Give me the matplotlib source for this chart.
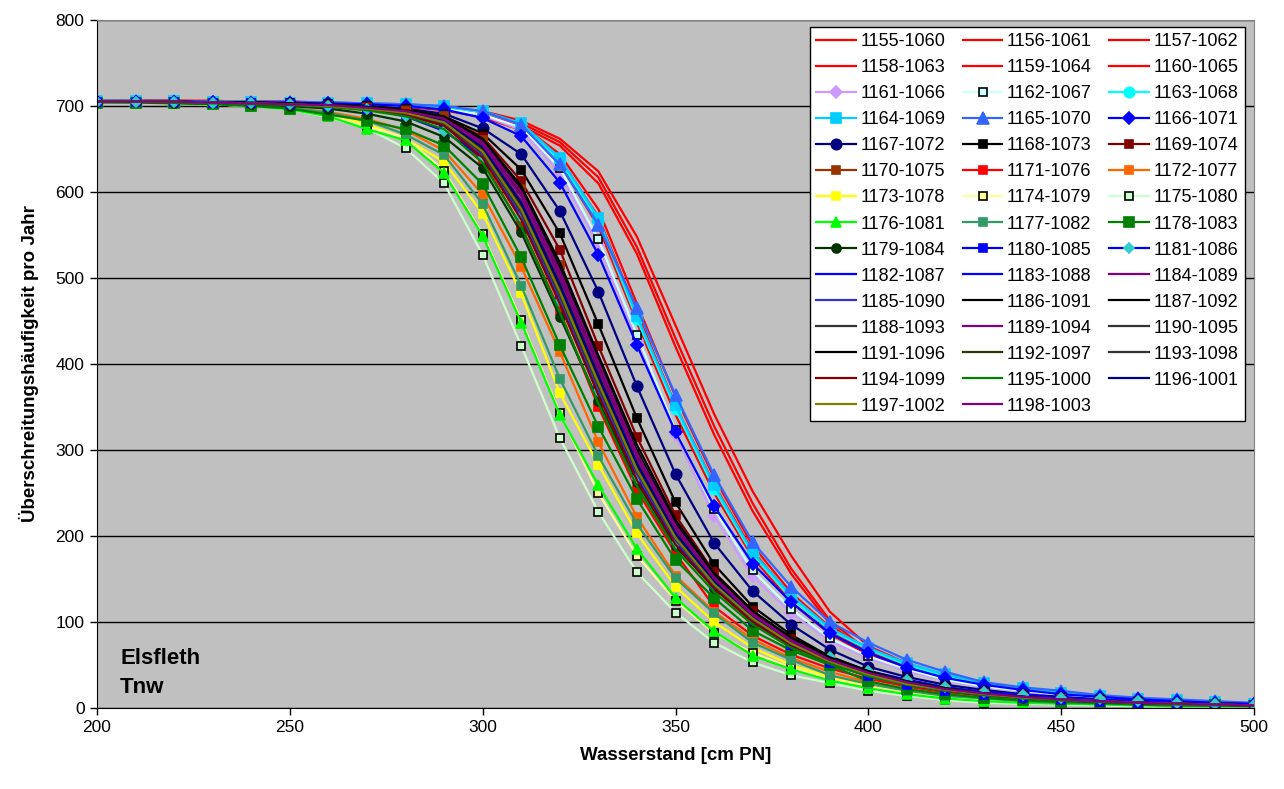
import matplotlib as mpl
import matplotlib.pyplot as plt

mpl.rcParams["font.family"] = ["Liberation Sans", "DejaVu Sans"]

# water level [cm PN]
x = [200, 210, 220, 230, 240, 250, 260, 270, 280, 290, 300, 310, 320, 330, 340, 350,
     360, 370, 380, 390, 400, 410, 420, 430, 440, 450, 460, 470, 480, 490, 500]

s1155 = [706,706,706,706,705,705,704,703,702,699,694,683,662,624,548,445,342,252,177,112,72,52,38,29,22,17,13,10,8,6,5]
s1156 = [706,706,706,706,705,705,704,703,701,698,692,680,658,617,536,430,328,238,162,102,66,48,35,27,21,16,12,10,8,6,5]
s1157 = [706,706,706,705,705,704,704,702,700,697,690,677,654,610,528,420,318,229,156,98,63,46,34,26,20,15,12,9,7,6,5]
s1158 = [706,706,706,705,705,704,703,702,700,697,690,678,644,580,470,362,268,189,134,94,68,50,37,28,22,17,13,10,8,6,5]
s1159 = [706,706,706,705,705,704,703,702,700,696,689,676,639,571,460,352,260,183,129,90,65,48,35,27,21,16,13,10,8,6,5]
s1160 = [706,706,706,705,705,704,703,701,699,695,687,672,633,560,448,341,250,175,123,86,62,46,34,26,20,15,12,9,7,6,5]
s1161 = [705,705,705,705,704,704,703,702,700,697,689,672,622,538,428,318,223,153,110,78,58,43,32,24,19,15,12,9,7,6,4]
s1162 = [705,705,705,705,704,704,703,702,700,697,690,675,628,545,434,323,231,160,115,81,60,45,33,25,20,15,12,9,7,6,4]
s1163 = [706,706,705,705,705,704,704,703,701,699,693,679,637,566,452,348,255,178,128,91,68,50,37,28,22,17,13,10,8,6,5]
s1164 = [706,706,706,705,705,704,704,703,702,700,694,680,640,570,456,352,259,181,131,93,70,52,39,29,23,18,14,11,9,7,5]
s1165 = [706,706,706,705,705,705,704,703,702,700,694,678,632,562,465,364,271,193,141,100,76,56,42,30,24,20,15,12,10,8,6]
s1166 = [705,705,705,705,704,704,703,702,700,696,686,665,611,527,422,321,235,168,123,87,64,47,35,27,21,16,13,10,8,6,5]
s1167 = [705,705,705,704,704,703,702,700,697,691,674,644,578,484,374,272,192,136,97,68,48,36,27,21,16,13,10,8,6,5,4]
s1168 = [705,705,705,704,704,703,702,700,696,688,668,626,552,446,337,239,167,118,85,60,43,32,24,18,14,11,9,7,5,4,3]
s1169 = [705,705,705,704,703,702,701,699,695,687,664,613,533,421,315,224,158,113,80,57,41,30,22,17,13,10,8,6,5,4,3]
s1170 = [705,705,705,704,703,702,700,698,694,688,660,604,515,395,285,205,148,106,76,54,39,29,21,16,12,10,8,6,5,4,3]
s1171 = [705,705,704,704,703,702,700,697,692,679,636,560,462,350,253,180,118,84,62,46,34,25,18,14,11,8,7,5,4,3,3]
s1172 = [705,705,704,703,701,698,693,685,672,648,597,513,414,309,222,154,112,80,58,42,30,22,16,12,9,7,6,5,4,3,2]
s1173 = [705,704,703,702,700,697,690,679,662,635,575,482,366,283,203,141,100,70,50,36,26,19,14,10,8,6,5,4,3,2,2]
s1174 = [705,704,703,702,700,697,689,676,663,625,551,451,343,250,177,125,87,64,47,34,25,18,13,10,7,6,5,4,3,2,2]
s1175 = [705,704,703,702,700,696,687,674,651,610,527,421,314,228,158,111,76,53,38,29,20,14,9,6,5,4,3,2,2,2,2]
s1176 = [705,704,703,702,700,696,688,673,660,622,549,448,341,259,185,128,89,61,45,32,23,16,11,8,6,5,4,3,2,2,2]
s1177 = [705,704,704,703,701,698,692,683,667,643,586,491,383,293,214,151,110,76,56,38,28,20,14,11,8,6,5,4,3,2,2]
s1178 = [704,704,703,702,700,697,690,683,673,654,609,524,422,327,243,172,128,90,67,50,31,22,16,12,9,7,6,4,3,3,2]
s1179 = [705,705,704,703,702,700,697,691,682,664,628,553,455,357,263,188,140,100,73,54,40,29,21,16,12,10,8,6,5,4,3]
s1180 = [705,705,705,704,703,702,700,697,690,677,646,580,478,372,273,193,142,102,73,52,37,27,20,15,12,9,7,6,5,4,3]
s1181 = [705,705,705,704,703,702,700,697,688,671,640,572,473,369,267,192,144,103,77,59,43,33,24,19,15,12,10,8,6,5,4]
s1182 = [705,705,705,704,703,702,700,697,691,680,646,578,482,376,276,197,143,103,74,54,39,28,21,16,12,10,8,6,5,4,3]
s1183 = [705,705,705,704,703,702,700,698,692,682,650,585,490,383,282,201,146,105,76,55,40,29,21,16,12,10,8,6,5,4,3]
s1184 = [705,705,705,704,703,702,701,698,693,684,653,590,497,392,289,207,150,108,78,56,41,30,22,17,13,10,8,6,5,4,3]
s1185 = [705,705,705,704,703,702,700,697,691,679,643,574,476,370,272,195,142,102,74,54,39,28,21,16,12,10,8,6,5,4,3]
s1186 = [705,705,705,704,704,703,701,699,695,687,660,604,512,405,300,215,154,111,80,58,42,31,23,17,13,10,8,6,5,4,3]
s1187 = [705,705,705,704,703,702,701,698,694,685,656,598,504,398,293,210,151,109,79,57,41,30,22,17,13,10,8,6,5,4,3]
s1188 = [705,705,705,704,703,702,701,698,693,683,651,588,494,388,285,204,148,106,77,56,40,29,22,16,12,10,8,6,5,4,3]
s1189 = [705,705,705,704,703,702,701,698,694,686,658,600,508,402,296,212,152,110,79,57,41,30,22,17,13,10,8,6,5,4,3]
s1190 = [705,705,705,704,703,702,700,697,692,681,648,582,486,380,279,199,145,104,75,55,40,29,21,16,12,10,8,6,5,4,3]
s1191 = [705,705,705,704,703,703,701,699,695,688,662,607,518,410,306,219,157,113,82,59,43,31,23,17,13,10,8,6,5,4,3]
s1192 = [705,705,705,704,703,702,700,697,692,682,649,584,488,384,282,202,146,105,76,55,40,29,21,16,12,10,8,6,5,4,3]
s1193 = [705,705,705,704,703,702,700,697,691,680,645,577,480,374,275,197,143,103,74,54,39,28,21,16,12,10,8,6,5,4,3]
s1194 = [705,705,704,704,703,702,700,697,690,677,640,568,470,364,265,190,139,100,72,53,38,28,20,15,12,9,7,6,5,4,3]
s1195 = [705,705,704,703,702,701,699,695,688,673,634,560,460,354,258,184,135,97,70,51,37,27,20,15,11,9,7,6,4,3,3]
s1196 = [705,705,705,704,703,702,701,698,693,683,652,587,492,386,284,203,147,106,76,55,40,29,21,16,12,10,8,6,5,4,3]
s1197 = [705,705,705,704,703,702,700,697,692,681,647,580,484,378,277,198,144,104,75,54,39,28,21,16,12,10,8,6,5,4,3]
s1198 = [705,705,705,704,703,702,701,698,694,685,655,595,502,395,291,209,151,108,78,56,41,30,22,17,13,10,8,6,5,4,3]

labels = ["1155-1060", "1156-1061", "1157-1062", "1158-1063", "1159-1064", "1160-1065",
          "1161-1066", "1162-1067", "1163-1068", "1164-1069", "1165-1070", "1166-1071",
          "1167-1072", "1168-1073", "1169-1074", "1170-1075", "1171-1076", "1172-1077",
          "1173-1078", "1174-1079", "1175-1080", "1176-1081", "1177-1082", "1178-1083",
          "1179-1084", "1180-1085", "1181-1086", "1182-1087", "1183-1088", "1184-1089",
          "1185-1090", "1186-1091", "1187-1092", "1188-1093", "1189-1094", "1190-1095",
          "1191-1096", "1192-1097", "1193-1098", "1194-1099", "1195-1000", "1196-1001",
          "1197-1002", "1198-1003"]
series = [s1155, s1156, s1157, s1158, s1159, s1160, s1161, s1162, s1163, s1164, s1165,
          s1166, s1167, s1168, s1169, s1170, s1171, s1172, s1173, s1174, s1175, s1176,
          s1177, s1178, s1179, s1180, s1181, s1182, s1183, s1184, s1185, s1186, s1187,
          s1188, s1189, s1190, s1191, s1192, s1193, s1194, s1195, s1196, s1197, s1198]

# (line colour, marker, marker face, marker edge, marker size)
styles = [
    ("#FF0000", None, None, None, 0),
    ("#FF0000", None, None, None, 0),
    ("#FF0000", None, None, None, 0),
    ("#FF0000", None, None, None, 0),
    ("#FF0000", None, None, None, 0),
    ("#FF0000", None, None, None, 0),
    ("#CC99FF", "D", "#CC99FF", "#CC99FF", 6.5),
    ("#CCFFFF", "s", "#CCFFFF", "#000000", 6),
    ("#00FFFF", "o", "#00FFFF", "#00FFFF", 7.5),
    ("#00CCFF", "s", "#00CCFF", "#00CCFF", 6.5),
    ("#3366FF", "^", "#3366FF", "#3366FF", 8),
    ("#0000FF", "D", "#0000FF", "#0000FF", 6.5),
    ("#000080", "o", "#000080", "#000080", 7.5),
    ("#000000", "s", "#000000", "#000000", 5.5),
    ("#800000", "s", "#800000", "#800000", 5.5),
    ("#993300", "s", "#993300", "#993300", 5.5),
    ("#FF0000", "s", "#FF0000", "#FF0000", 5.5),
    ("#FF6600", "s", "#FF6600", "#FF6600", 5.5),
    ("#FFFF00", "s", "#FFFF00", "#FFFF00", 5.5),
    ("#FFFF99", "s", "#FFFF99", "#000000", 6),
    ("#CCFFCC", "s", "#CCFFCC", "#000000", 6),
    ("#00FF00", "^", "#00FF00", "#00FF00", 7.5),
    ("#339966", "s", "#339966", "#339966", 5.5),
    ("#008000", "s", "#008000", "#008000", 7.5),
    ("#003300", "o", "#003300", "#003300", 6.5),
    ("#0000FF", "s", "#0000FF", "#0000FF", 5.5),
    ("#0000FF", "D", "#33CCCC", "#33CCCC", 5.5),
    ("#0000FF", None, None, None, 0),
    ("#0000FF", None, None, None, 0),
    ("#800080", None, None, None, 0),
    ("#3333CC", None, None, None, 0),
    ("#000000", None, None, None, 0),
    ("#000000", None, None, None, 0),
    ("#333333", None, None, None, 0),
    ("#800080", None, None, None, 0),
    ("#333333", None, None, None, 0),
    ("#000000", None, None, None, 0),
    ("#333300", None, None, None, 0),
    ("#333333", None, None, None, 0),
    ("#800000", None, None, None, 0),
    ("#008000", None, None, None, 0),
    ("#000080", None, None, None, 0),
    ("#808000", None, None, None, 0),
    ("#800080", None, None, None, 0),
]

fig = plt.figure(figsize=(12.84, 7.89), dpi=100)
ax = fig.add_axes([97 / 1284, 1 - 708 / 789, (1254 - 97) / 1284, (708 - 20) / 789])
ax.set_facecolor("#C0C0C0")

handles = []
for y, lab, (c, m, mfc, mec, ms) in zip(series, labels, styles):
    h, = ax.plot(x, y, color=c, lw=1.6, marker=m, markerfacecolor=mfc,
                 markeredgecolor=mec, markersize=ms, markeredgewidth=1.2, label=lab)
    handles.append(h)

ax.set_xlim(200, 500)
ax.set_ylim(0, 800)
ax.set_xticks(range(200, 501, 50))
ax.set_yticks(range(0, 801, 100))
ax.yaxis.grid(True, color="black", lw=1)
ax.set_axisbelow(True)
ax.tick_params(labelsize=12.5, direction="out", length=5, width=1, pad=4)
for side in ("left", "bottom"):
    ax.spines[side].set_color("black")
for side in ("top", "right"):
    ax.spines[side].set_color("#808080")

ax.set_xlabel("Wasserstand [cm PN]", fontsize=13.5, fontweight="bold", labelpad=8)
ax.set_ylabel("Überschreitungshäufigkeit pro Jahr", fontsize=13.5, fontweight="bold", labelpad=12)

ax.text(206, 12, "Elsfleth\nTnw", fontsize=16, fontweight="bold", va="bottom",
        ha="left", linespacing=1.45)

# legend is filled row by row in the original, matplotlib fills columns
ncol = 3
order = [i for c in range(ncol) for i in range(c, len(handles), ncol)]
leg = ax.legend([handles[i] for i in order], [labels[i] for i in order], ncol=ncol,
                loc="upper left", bbox_to_anchor=(810 / 1284, 1 - 27 / 789),
                bbox_transform=fig.transFigure, fontsize=13, frameon=True, fancybox=False,
                edgecolor="black", framealpha=1, handlelength=2.2, handletextpad=0.25,
                columnspacing=0.95, labelspacing=0.5, borderpad=0.35, borderaxespad=0)
leg.get_frame().set_linewidth(1.0)

fig.savefig("out.png", dpi=100)
